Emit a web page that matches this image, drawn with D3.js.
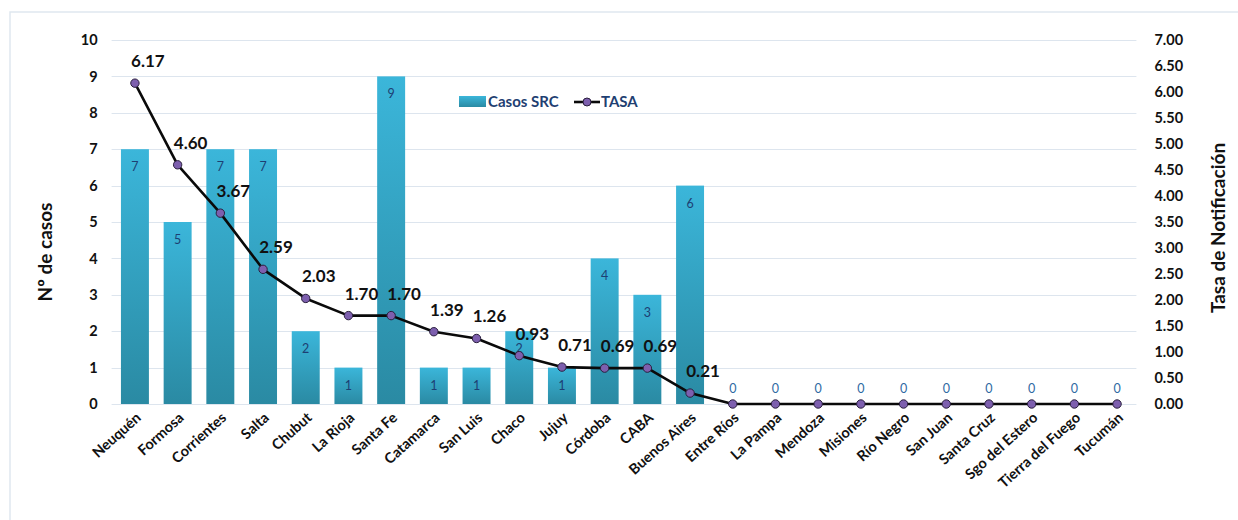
<!DOCTYPE html>
<html>
<head>
<meta charset="utf-8">
<script src="https://cdn.jsdelivr.net/npm/d3@7"></script>
<style>
  html, body { margin: 0; padding: 0; background: #ffffff; }
  svg { display: block; }
  text { font-family: Lato, "Open Sans", sans-serif; }
</style>
</head>
<body>
<svg id="chart" width="1238" height="520"></svg>
<script>
// Provinces, cases of SRC and notification rate
const provincias = ["Neuquén", "Formosa", "Corrientes", "Salta", "Chubut", "La Rioja", "Santa Fe",
  "Catamarca", "San Luis", "Chaco", "Jujuy", "Córdoba", "CABA", "Buenos Aires", "Entre Ríos",
  "La Pampa", "Mendoza", "Misiones", "Río Negro", "San Juan", "Santa Cruz", "Sgo del Estero",
  "Tierra del Fuego", "Tucumán"];
const casos = [7, 5, 7, 7, 2, 1, 9, 1, 1, 2, 1, 4, 3, 6, 0, 0, 0, 0, 0, 0, 0, 0, 0, 0];
const tasa = [6.17, 4.60, 3.67, 2.59, 2.03, 1.70, 1.70, 1.39, 1.26, 0.93, 0.71, 0.69, 0.69, 0.21,
  0, 0, 0, 0, 0, 0, 0, 0, 0, 0];
const ticksCasos = [0, 1, 2, 3, 4, 5, 6, 7, 8, 9, 10];
const ticksTasa = [0, 0.5, 1, 1.5, 2, 2.5, 3, 3.5, 4, 4.5, 5, 5.5, 6, 6.5, 7];

const svg = d3.select("#chart");
const plotLeft = 113.6, plotRight = 1138.4, plotTop = 40, plotBottom = 404;

// outer frame
svg.append("path")
  .attr("d", "M10,520 V12 H1238")
  .attr("fill", "none").attr("stroke", "#dfe8ef").attr("stroke-width", 1.5);

const x = d3.scaleBand().domain(provincias).range([plotLeft, plotRight]).paddingInner(0.345).paddingOuter(0.172);
const yL = d3.scaleLinear().domain([0, 10]).range([plotBottom, plotTop]);
const yR = d3.scaleLinear().domain([0, 7]).range([plotBottom, plotTop]);

const defs = svg.append("defs");
const grad = defs.append("linearGradient").attr("id", "barGrad")
  .attr("x1", 0).attr("y1", 0).attr("x2", 0).attr("y2", 1);
grad.append("stop").attr("offset", "0%").attr("stop-color", "#3bb6da");
grad.append("stop").attr("offset", "100%").attr("stop-color", "#2a8aa3");

// grid lines
svg.append("g").selectAll("line").data(ticksCasos).join("line")
  .attr("x1", plotLeft - 2).attr("x2", plotRight - 2)
  .attr("y1", d => Math.round(yL(d)) + 0.5).attr("y2", d => Math.round(yL(d)) + 0.5)
  .attr("stroke", "#dde5ee").attr("stroke-width", 1.2);

// left axis
const axL = svg.append("g").attr("transform", `translate(${plotLeft - 2},0)`)
  .call(d3.axisLeft(yL).tickValues(ticksCasos).tickSize(0).tickPadding(14).tickFormat(d3.format("d")));
axL.select(".domain").remove();
axL.selectAll("text").attr("font-size", 14.5).attr("font-weight", 700).attr("fill", "#111");

// right axis
const axR = svg.append("g").attr("transform", `translate(${plotRight},0)`)
  .call(d3.axisRight(yR).tickValues(ticksTasa).tickSize(0).tickPadding(16).tickFormat(d3.format(".2f")));
axR.select(".domain").remove();
axR.selectAll("text").attr("font-size", 14.5).attr("font-weight", 700).attr("fill", "#111");

// bottom axis labels
const axB = svg.append("g").attr("transform", `translate(0,${plotBottom})`)
  .call(d3.axisBottom(x).tickSize(0).tickPadding(0));
axB.select(".domain").remove();
axB.selectAll("text")
  .attr("font-size", 14.5).attr("font-weight", 700).attr("fill", "#111")
  .attr("text-anchor", "end")
  .attr("dy", 0)
  .attr("transform", "translate(7,15) rotate(-42)");

// bars
svg.append("g").selectAll("rect").data(provincias).join("rect")
  .attr("x", d => x(d)).attr("width", x.bandwidth())
  .attr("y", (d, i) => yL(casos[i])).attr("height", (d, i) => plotBottom - yL(casos[i]))
  .attr("fill", "url(#barGrad)");

// bar values
svg.append("g").selectAll("text").data(provincias).join("text")
  .attr("x", d => x(d) + x.bandwidth() / 2)
  .attr("y", (d, i) => casos[i] > 0 ? yL(casos[i]) + 22 : plotBottom - 11)
  .attr("text-anchor", "middle")
  .attr("font-size", 12.5)
  .attr("fill", (d, i) => casos[i] > 0 ? "#1d3f73" : "#2f6aa3")
  .text((d, i) => casos[i]);

// rate line
const cx = d => x(d) + x.bandwidth() / 2;
const line = d3.line().x((d, i) => cx(provincias[i])).y(d => yR(d));
svg.append("path").datum(tasa)
  .attr("d", line).attr("fill", "none").attr("stroke", "#0a0a0a").attr("stroke-width", 2.6)
  .attr("stroke-linejoin", "round");
svg.append("g").selectAll("circle").data(tasa).join("circle")
  .attr("cx", (d, i) => cx(provincias[i])).attr("cy", d => yR(d)).attr("r", 4.2)
  .attr("fill", "#7d5fae").attr("stroke", "#2a1f3d").attr("stroke-width", 1);

// rate values
svg.append("g").selectAll("text").data(tasa.map((v, i) => [v, i]).filter(d => d[0] > 0)).join("text")
  .attr("x", d => cx(provincias[d[1]]) + 13)
  .attr("y", d => yR(d[0]) - 16)
  .attr("text-anchor", "middle")
  .attr("font-size", 17).attr("font-weight", 700).attr("fill", "#111")
  .text(d => d3.format(".2f")(d[0]));

// legend
const lg = svg.append("g");
lg.append("rect").attr("x", 459).attr("y", 96).attr("width", 27).attr("height", 11).attr("fill", "url(#barGrad)");
lg.append("text").attr("x", 488).attr("y", 107).attr("font-size", 15).attr("font-weight", 700)
  .attr("fill", "#1f3f72").text("Casos SRC");
lg.append("line").attr("x1", 574).attr("x2", 600).attr("y1", 102).attr("y2", 102)
  .attr("stroke", "#0a0a0a").attr("stroke-width", 2.6);
lg.append("circle").attr("cx", 587).attr("cy", 102).attr("r", 4)
  .attr("fill", "#7d5fae").attr("stroke", "#2a1f3d").attr("stroke-width", 1);
lg.append("text").attr("x", 601).attr("y", 107).attr("font-size", 15).attr("font-weight", 700)
  .attr("fill", "#1f3f72").text("TASA");

// axis titles
svg.append("text").attr("transform", "translate(52,252) rotate(-90)")
  .attr("text-anchor", "middle").attr("font-size", 19).attr("font-weight", 700).attr("fill", "#111")
  .text("Nº de casos");
svg.append("text").attr("transform", "translate(1225,228) rotate(-90)")
  .attr("text-anchor", "middle").attr("font-size", 19).attr("font-weight", 700).attr("fill", "#111")
  .text("Tasa de Notificación");
</script>
</body>
</html>
